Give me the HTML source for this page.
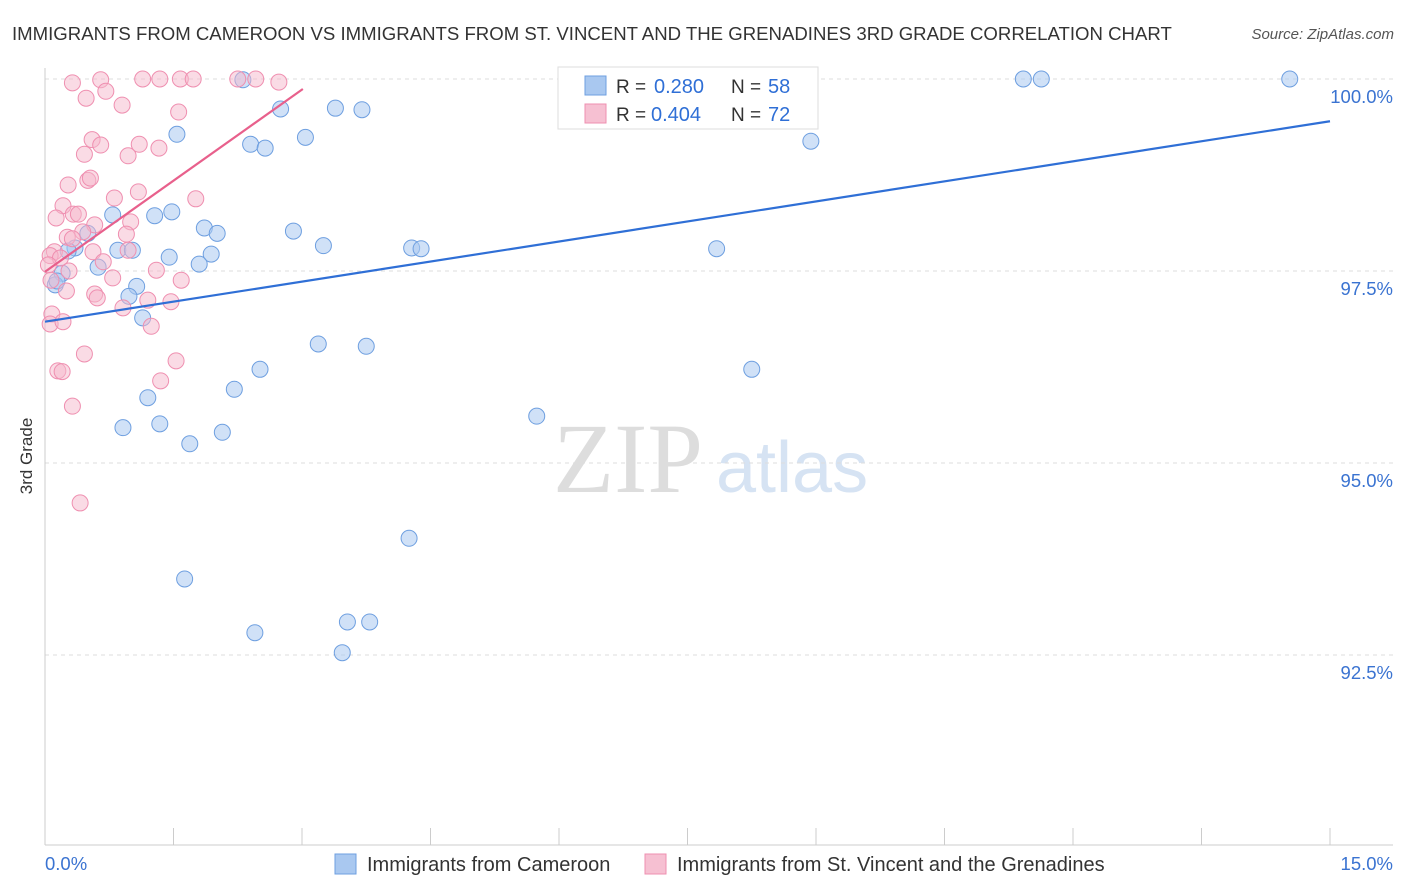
<!DOCTYPE html>
<html><head><meta charset="utf-8">
<style>
body{margin:0;background:#fff;font-family:"Liberation Sans",sans-serif;}
svg{display:block}
</style></head>
<body>
<svg id="chart" width="1406" height="892">
<text x="12" y="40" font-size="18.6" fill="#333">IMMIGRANTS FROM CAMEROON VS IMMIGRANTS FROM ST. VINCENT AND THE GRENADINES 3RD GRADE CORRELATION CHART</text>
<text x="1394" y="39" font-size="15" fill="#555" font-style="italic" text-anchor="end">Source: ZipAtlas.com</text>
<text x="32" y="456" font-size="17" fill="#333" transform="rotate(-90 32 456)" text-anchor="middle">3rd Grade</text>
<text x="553" y="492" font-size="100" fill="#ddd" font-family="Liberation Serif,serif">ZIP</text>
<text x="716" y="492" font-size="72" fill="#d6e3f3">atlas</text>
<g id="grid"></g><g id="axes"></g><g id="pts"></g><g id="lines"></g>
<g>
<rect x="558" y="67" width="260" height="62" fill="#fff" stroke="#ddd"/>
<rect x="585" y="76" width="21" height="19" fill="#a9c8f0" stroke="#6e9fe0"/>
<text x="616" y="93" font-size="19" fill="#333">R =</text>
<text x="654" y="93" font-size="20" fill="#2f6fd6">0.280</text>
<text x="731" y="93" font-size="19" fill="#333">N =</text>
<text x="768" y="93" font-size="20" fill="#2f6fd6">58</text>
<rect x="585" y="104" width="21" height="19" fill="#f6c0d2" stroke="#ef8fb0"/>
<text x="616" y="121" font-size="19" fill="#333">R =</text>
<text x="651" y="121" font-size="20" fill="#2f6fd6">0.404</text>
<text x="731" y="121" font-size="19" fill="#333">N =</text>
<text x="768" y="121" font-size="20" fill="#2f6fd6">72</text>
</g>
<g>
<rect x="335" y="854" width="21" height="20" fill="#a9c8f0" stroke="#6e9fe0"/>
<text x="367" y="871" font-size="20" fill="#333">Immigrants from Cameroon</text>
<rect x="645" y="854" width="21" height="20" fill="#f6c0d2" stroke="#ef8fb0"/>
<text x="677" y="871" font-size="20" fill="#333">Immigrants from St. Vincent and the Grenadines</text>
</g>
</svg>
<script>
const yTicks=[100,97.5,95,92.5];
const yTickLabels=["100.0%","97.5%","95.0%","92.5%"];
const xTickLabels=["0.0%","15.0%"];
const blueX=[2.31,2.75,3.39,3.70,1.54,2.40,2.57,3.04,8.94,11.42,11.63,14.53,8.63,0.79,1.28,1.48,1.86,2.01,2.90,3.25,4.28,4.39,7.84,0.50,0.35,0.27,0.85,1.02,1.45,1.94,1.80,0.62,0.20,0.12,0.14,1.07,0.98,1.14,3.19,3.75,2.51,8.25,2.21,1.20,5.74,0.91,1.34,2.07,1.69,4.25,1.63,3.53,3.79,2.45,3.47];
const blueY=[99.99,99.61,99.62,99.60,99.28,99.15,99.10,99.24,99.19,100,100,100,99.99,98.23,98.22,98.27,98.06,97.99,98.02,97.83,97.80,97.79,97.79,97.99,97.80,97.76,97.77,97.77,97.68,97.72,97.59,97.55,97.47,97.32,97.37,97.30,97.17,96.89,96.55,96.52,96.22,96.22,95.96,95.85,95.61,95.46,95.51,95.40,95.25,94.02,93.49,92.93,92.93,92.79,92.53];
const pinkX=[0.32,0.65,1.14,1.34,1.58,1.73,2.25,2.46,2.73,0.48,0.71,0.90,1.56,0.55,0.65,0.46,0.97,1.10,1.33,0.27,0.50,0.53,1.09,1.76,0.81,0.21,0.13,0.33,0.39,0.58,1.00,0.44,0.26,0.32,0.95,0.11,0.06,0.18,0.56,0.97,0.04,0.28,0.68,0.79,1.30,1.59,0.07,0.25,0.58,0.61,1.20,1.47,0.91,0.08,0.06,0.21,1.24,1.53,0.46,0.15,0.20,1.35,0.32,0.41];
const pinkY=[99.95,99.99,100,100,100,100,100,100,99.96,99.75,99.84,99.66,99.57,99.21,99.14,99.02,99.00,99.15,99.10,98.62,98.68,98.71,98.53,98.44,98.45,98.35,98.19,98.24,98.24,98.10,98.14,98.01,97.94,97.92,97.98,97.75,97.70,97.67,97.75,97.77,97.58,97.50,97.62,97.41,97.51,97.38,97.38,97.24,97.20,97.15,97.12,97.10,97.02,96.94,96.81,96.84,96.78,96.33,96.42,96.20,96.19,96.07,95.74,94.48];
const blueTrend=[96.84,99.45];
const pinkTrend=[97.49,99.87,3.01];
const NS="http://www.w3.org/2000/svg";
const sx=v=>45+v/15*1285;
const sy=v=>79+(100-v)/2.5*192;
function mk(tag,attrs,parent){const e=document.createElementNS(NS,tag);for(const k in attrs)e.setAttribute(k,attrs[k]);parent.appendChild(e);return e;}
const grid=document.getElementById('grid'),axes=document.getElementById('axes'),pts=document.getElementById('pts'),lines=document.getElementById('lines');
yTicks.forEach((t,i)=>{
 const l=mk('line',{x1:45,x2:1393,y1:sy(t),y2:sy(t),stroke:'#ddd','stroke-dasharray':'4,4'},grid);
 
 
 const tx=mk('text',{x:1393,y:sy(t)+24,'font-size':18.5,fill:'#3a73d1','text-anchor':'end'},axes);
 tx.textContent=yTickLabels[i];
 
 
});
const ax=mk('line',{x1:45,x2:1393,y1:845,y2:845,stroke:'#ccc'},axes);


const ay=mk('line',{x1:45,x2:45,y1:68,y2:845,stroke:'#ccc'},axes);


for(let i=0;i<=10;i++){
 const t=mk('line',{x1:sx(i*1.5),x2:sx(i*1.5),y1:828,y2:845,stroke:'#ccc'},axes);
 
 
}
const xl0=mk('text',{x:45,y:870,'font-size':18.5,fill:'#3a73d1'},axes);xl0.textContent=xTickLabels[0];


const xl1=mk('text',{x:1393,y:870,'font-size':18.5,fill:'#3a73d1','text-anchor':'end'},axes);xl1.textContent=xTickLabels[1];


blueX.forEach((x,i)=>{
 const c=mk('circle',{cx:sx(x),cy:sy(blueY[i]),r:8,fill:'rgba(169,200,240,0.55)',stroke:'#6e9fe0','stroke-width':1},pts);
 
 
});
pinkX.forEach((x,i)=>{
 const c=mk('circle',{cx:sx(x),cy:sy(pinkY[i]),r:8,fill:'rgba(246,184,204,0.5)',stroke:'#ef8fb0','stroke-width':1},pts);
 
 
});
const bl=mk('line',{x1:sx(0),y1:sy(blueTrend[0]),x2:sx(15),y2:sy(blueTrend[1]),stroke:'#2f6fd6','stroke-width':2.2},lines);


const pl=mk('line',{x1:sx(0),y1:sy(pinkTrend[0]),x2:sx(pinkTrend[2]),y2:sy(pinkTrend[1]),stroke:'#e8608c','stroke-width':2.2},lines);


</script>
</body></html>
